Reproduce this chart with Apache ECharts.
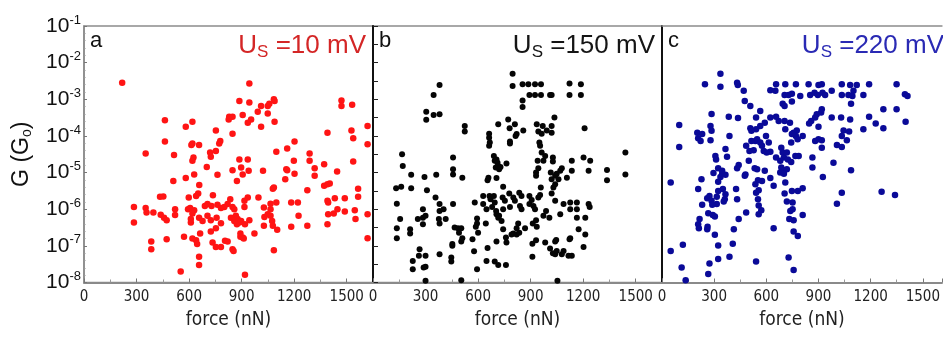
<!DOCTYPE html>
<html><head><meta charset="utf-8">
<script src="https://cdn.jsdelivr.net/npm/echarts@6/dist/echarts.min.js"></script>
<style>html,body{margin:0;padding:0;background:#fff}#c{width:943px;height:338px}</style>
</head><body><div id="c"></div>
<script>
// ---- data (force in nN, conductance given as log10(G/G0)) ----
const forceA = [218,944,887,944,1011,992,1049,1058,1084,1088,1049,906,954,935,829,848,826,1011,1088,1470,1470,1531,462,619,581,753,848,352,462,514,619,613,657,778,772,720,753,724,625,619,701,762,629,581,510,848,887,935,897,906,940,873,1022,1098,1160,1202,1198,1155,1160,1202,1149,1288,1288,1317,1317,1371,1390,1445,1527,1537,1537,1619,1619,1371,1403,1390,1275,1078,1084,1565,1565,1489,1432,1390,1394,1221,1183,1098,1065,996,935,916,835,736,652,658,640,598,434,453,285,285,352,357,396,438,457,472,520,520,472,384,384,571,594,606,629,610,619,657,677,690,705,724,728,762,753,782,724,619,640,646,663,657,657,552,734,753,782,805,820,820,848,858,867,877,887,873,848,854,893,893,906,912,919,944,897,916,973,919,1030,1027,1049,1065,1074,1078,1103,1084,1183,1225,1275,1390,1394,1426,1447,1489,1546,1550,1619,1619,610,705,801,782,757,839,858,1027,1065];
const logGA = [-2.55,-2.57,-3.05,-3.09,-3.18,-3.34,-3.18,-3.12,-3.00,-3.05,-3.39,-3.43,-3.55,-3.64,-3.48,-3.48,-3.55,-3.75,-3.61,-3.03,-3.18,-3.15,-3.57,-3.61,-3.75,-3.85,-3.94,-4.48,-4.15,-4.52,-4.21,-4.25,-4.25,-4.14,-4.21,-4.45,-4.41,-4.57,-4.59,-4.68,-4.85,-5.06,-5.05,-5.15,-5.23,-4.94,-4.64,-4.64,-4.86,-5.05,-4.95,-5.23,-4.95,-4.43,-4.34,-4.15,-4.68,-4.91,-4.94,-5.03,-5.18,-4.48,-4.68,-4.88,-5.09,-4.77,-3.91,-4.97,-3.85,-4.06,-4.70,-3.73,-4.23,-5.36,-5.30,-5.32,-5.48,-5.44,-5.41,-5.44,-5.66,-5.70,-5.70,-5.77,-5.82,-5.82,-5.82,-5.82,-5.85,-5.68,-5.68,-5.77,-5.73,-5.62,-5.57,-5.34,-5.64,-5.68,-5.66,-5.65,-5.94,-6.36,-5.97,-6.09,-6.09,-6.15,-6.23,-6.30,-6.00,-6.16,-6.82,-6.88,-7.09,-6.75,-6.00,-5.97,-6.03,-6.36,-6.12,-6.23,-6.32,-5.91,-5.86,-6.30,-5.91,-5.88,-6.52,-6.38,-6.61,-6.80,-6.85,-6.95,-6.66,-7.30,-7.52,-7.70,-6.91,-7.03,-7.03,-6.86,-6.88,-5.86,-5.94,-6.00,-6.18,-6.27,-6.36,-6.41,-7.09,-7.14,-6.66,-6.75,-6.77,-6.80,-6.41,-6.30,-6.32,-5.94,-6.66,-7.79,-6.21,-6.45,-6.14,-6.18,-6.32,-6.45,-6.56,-7.12,-6.48,-6.18,-6.45,-6.41,-6.14,-6.12,-6.00,-6.06,-6.03,-6.27,-6.14,-6.79,-6.27,-6.18,-5.94,-5.97,-6.23,-6.23,-6.32,-5.95,-6.00];

const forceB = [797,797,854,887,925,959,893,925,959,1011,1020,854,854,1122,1122,1187,1187,380,346,304,304,346,380,524,524,715,772,780,810,820,858,663,663,667,663,782,782,814,935,944,963,969,992,1020,1020,1036,1208,950,954,963,940,973,983,1027,1027,1078,1069,1049,1040,1059,1040,1020,1015,944,931,931,1135,1135,1107,1202,1240,1231,1336,1336,1441,1441,166,170,218,132,161,218,294,361,308,357,380,403,136,155,136,136,212,212,256,285,300,285,285,380,376,380,415,457,457,457,510,457,466,485,504,491,453,453,447,447,504,510,380,266,262,227,227,300,300,289,300,504,594,577,587,594,594,581,629,629,644,648,654,659,665,671,680,690,695,703,705,715,720,743,740,753,782,778,743,705,720,701,695,690,705,711,715,728,762,801,810,835,848,848,839,829,801,791,820,820,835,868,893,893,906,916,925,944,954,958,912,935,910,910,931,983,988,1007,1020,1030,1040,1040,1046,1011,1027,1040,1049,1078,1088,1069,1088,1126,1126,1164,1164,1164,1126,1122,1135,1116,1231,1237,1212,1174,1212,1202,1053,759,695,715,648,654,705,762,759,743,734,568,600,931,973];
const logGB = [-2.30,-2.64,-2.59,-2.59,-2.59,-2.59,-2.88,-2.88,-2.88,-2.88,-2.88,-3.03,-3.21,-2.57,-2.88,-2.59,-2.88,-2.61,-2.88,-3.34,-3.56,-3.43,-3.41,-3.73,-3.88,-3.68,-3.55,-3.79,-3.68,-3.95,-3.85,-3.94,-4.05,-4.18,-4.27,-4.15,-4.21,-4.00,-3.68,-3.88,-3.94,-3.73,-3.85,-3.73,-3.91,-3.50,-3.79,-4.18,-4.27,-4.45,-4.68,-4.68,-4.55,-4.59,-4.70,-4.88,-4.95,-5.03,-5.09,-5.18,-5.32,-5.18,-5.00,-4.88,-5.00,-5.09,-4.68,-4.95,-5.14,-4.59,-4.68,-4.95,-4.93,-5.21,-4.45,-5.05,-4.50,-4.82,-5.06,-5.43,-5.39,-5.43,-5.12,-5.06,-5.48,-5.68,-5.86,-6.00,-5.85,-6.27,-6.52,-6.79,-6.55,-6.66,-6.27,-6.23,-6.18,-6.41,-6.00,-6.05,-6.27,-6.39,-6.27,-4.59,-4.91,-5.05,-5.14,-5.86,-6.50,-6.52,-6.52,-6.64,-6.95,-7.00,-7.32,-7.43,-6.88,-6.79,-7.23,-7.09,-7.27,-7.41,-7.64,-7.27,-7.57,-7.59,-7.95,-7.94,-7.64,-7.15,-6.48,-6.25,-6.39,-5.82,-5.64,-5.86,-6.39,-6.00,-5.21,-5.14,-5.64,-5.73,-5.94,-5.64,-5.82,-6.05,-6.14,-6.23,-6.18,-6.00,-5.68,-5.77,-5.94,-5.57,-5.39,-5.15,-4.91,-4.86,-4.68,-4.55,-4.64,-4.73,-4.82,-4.85,-4.75,-5.68,-5.77,-5.55,-5.64,-6.00,-5.91,-6.39,-6.66,-6.69,-6.69,-6.52,-6.64,-6.52,-5.64,-5.86,-5.75,-5.91,-6.00,-5.68,-5.61,-5.41,-6.39,-6.48,-6.94,-7.30,-6.85,-6.91,-6.05,-6.23,-5.57,-5.41,-5.77,-6.88,-6.84,-7.07,-7.20,-7.23,-7.14,-7.23,-7.14,-6.14,-5.86,-5.82,-6.00,-5.82,-6.00,-6.23,-6.79,-6.82,-7.27,-7.27,-5.86,-5.94,-6.23,-6.55,-6.69,-7.03,-7.95,-7.52,-7.43,-7.52,-7.41,-7.06,-6.88,-6.91,-6.77,-6.55,-6.32,-6.82,-6.64,-6.30,-6.18];

const forceC = [336,336,247,432,436,470,476,508,623,652,656,709,705,728,747,694,705,747,770,795,843,852,877,896,900,919,923,938,976,1034,1034,1072,1082,1101,1120,1087,1095,1158,1191,1349,1397,1412,1349,1273,1401,1191,1229,1273,1158,1082,1030,976,915,919,890,881,858,846,900,1044,1034,1076,1063,1006,1034,986,1087,1034,1006,1263,1340,919,900,881,919,865,865,925,809,775,757,770,780,747,743,709,705,736,671,656,623,591,565,541,508,514,541,565,598,547,537,565,614,575,527,585,623,656,686,694,701,718,724,680,686,701,718,680,709,701,743,767,786,623,642,591,575,552,537,556,552,571,556,541,533,547,499,480,476,441,432,503,484,514,426,432,484,441,413,407,388,323,323,304,304,292,266,262,260,208,212,216,231,260,273,285,315,315,289,350,365,361,355,323,323,336,346,365,307,311,323,346,296,374,365,388,384,437,285,279,285,279,231,203,208,222,227,208,99,99,50,50,120,113,136,266,273,541,728,757,757,781,757,732,738,751,718,705,747,781,809,809,642,556,602,751];
const logGC = [-2.30,-2.66,-2.59,-2.55,-2.61,-2.77,-3.05,-3.18,-2.75,-2.77,-2.59,-2.59,-2.88,-2.88,-2.85,-3.12,-3.18,-3.06,-2.59,-2.91,-2.59,-2.88,-2.82,-2.88,-2.61,-2.59,-2.82,-2.88,-2.77,-2.59,-2.88,-2.88,-2.61,-2.77,-2.61,-3.12,-2.91,-2.88,-2.59,-2.59,-2.86,-2.91,-3.27,-3.27,-3.61,-3.48,-3.66,-3.79,-3.82,-3.55,-3.50,-3.50,-3.36,-3.27,-3.41,-3.50,-3.59,-3.66,-3.75,-3.85,-4.00,-3.88,-4.12,-4.25,-4.30,-4.73,-4.94,-5.55,-5.85,-5.52,-5.61,-4.12,-4.09,-4.14,-4.32,-4.59,-4.86,-5.12,-4.00,-3.85,-3.91,-4.00,-4.09,-3.95,-4.18,-3.82,-3.59,-3.64,-3.59,-3.48,-3.50,-3.64,-3.73,-3.82,-3.79,-3.86,-3.50,-3.32,-4.00,-4.09,-4.14,-4.18,-4.18,-4.27,-4.39,-4.41,-4.43,-4.59,-4.32,-4.45,-4.59,-4.45,-4.64,-4.68,-4.86,-4.95,-4.91,-5.00,-5.27,-5.03,-4.71,-4.55,-4.55,-5.15,-5.36,-4.95,-5.23,-5.21,-5.32,-5.48,-5.73,-6.03,-6.14,-5.55,-4.88,-4.91,-4.68,-5.05,-5.09,-4.79,-4.88,-4.41,-4.27,-4.14,-5.45,-5.73,-6.09,-6.27,-6.55,-6.94,-7.30,-7.36,-6.99,-6.70,-6.20,-6.16,-6.11,-6.48,-6.55,-6.41,-6.52,-6.27,-5.88,-5.70,-5.64,-5.77,-5.66,-5.86,-5.88,-5.45,-5.59,-5.73,-5.79,-5.50,-5.25,-5.12,-5.03,-5.06,-4.55,-4.64,-4.88,-4.95,-5.01,-4.57,-4.36,-4.00,-3.48,-3.51,-3.40,-3.73,-3.86,-4.12,-3.95,-3.91,-4.06,-4.14,-5.18,-5.45,-3.70,-4.30,-5.27,-7.14,-6.97,-7.59,-7.94,-7.77,-7.48,-7.43,-7.32,-7.66,-6.61,-6.73,-6.30,-6.27,-6.05,-6.00,-5.79,-5.57,-5.50,-5.50,-5.43,-6.16,-6.52,-5.90,-4.45,-5.82];

const xTickValues = [0, 300, 600, 900, 1200, 1500];
const yExponents = [-8, -7, -6, -5, -4, -3, -2, -1];
const panelLetters = ['a', 'b', 'c'];
const biasTexts = [' =10 mV', ' =150 mV', ' =220 mV'];
// visible force range per panel (panel c is cut by the right edge of the picture)
const forceMax = [1650, 1650, 1610];

// ---- styling ----
const pointColors = ['#ff1414', '#050505', '#0a0a98'];
const labelColors = ['#d42626', '#151515', '#2a2ab4'];
const gridLefts = [84, 373, 662];
const gridWidths = [289, 289, 282];
const GTOP = 26, GH = 256.5;
const narrow = "'Liberation Sans Narrow','DejaVu Sans Condensed','Arial Narrow',sans-serif";
const sans = "'Liberation Sans',Arial,sans-serif";

const toSeries = (f, lg) => f.map((x, i) => [x, Math.pow(10, lg[i])]);
const sets = [toSeries(forceA, logGA), toSeries(forceB, logGB), toSeries(forceC, logGC)];

const grids = [], xAxes = [], yAxes = [], series = [], graphics = [];
for (let i = 0; i < 3; i++) {
  // panel c runs off the right edge of the picture: no box, only a top line (added below)
  grids.push({left: gridLefts[i], top: GTOP, width: gridWidths[i], height: GH, show: i < 2,
    borderColor: '#8c8c8c', borderWidth: 1.5, backgroundColor: 'transparent', containLabel: false});
  xAxes.push({
    type: 'value', gridIndex: i, min: 0, max: forceMax[i], interval: 300, position: 'bottom',
    axisLine: {lineStyle: {color: '#8a8a8a', width: 2}},
    axisTick: {show: true, inside: true, length: 4, lineStyle: {color: '#777', width: 1}},
    minorTick: {show: true, splitNumber: 2, length: 3, lineStyle: {color: '#999'}},
    splitLine: {show: false},
    axisLabel: {
      showMaxLabel: false, margin: 7, color: '#222', fontFamily: narrow, fontSize: 15,
      formatter: v => xTickValues.indexOf(v) >= 0 ? String(v) : ''
    },
    name: 'force (nN)', nameLocation: 'middle', nameGap: 28,
    nameTextStyle: {fontFamily: narrow, fontSize: 19, color: '#222'}
  });
  yAxes.push({
    type: 'log', logBase: 10, gridIndex: i, min: 1e-8, max: 1e-1, interval: 1, position: 'left',
    axisLine: {show: true, lineStyle: {color: i === 0 ? '#8a8a8a' : '#111', width: i === 0 ? 1.5 : 2}},
    axisTick: {show: false},
    splitLine: {show: false},
    axisLabel: {
      show: i === 0, margin: 3,
      formatter: v => {
        const e = Math.round(Math.log10(v));
        return yExponents.indexOf(e) >= 0 ? '{a|10}{b|' + e + '}' : '';
      },
      rich: {
        a: {fontFamily: sans, fontSize: 21, color: '#111'},
        b: {fontFamily: sans, fontSize: 13, color: '#111', padding: [0, 0, 12, 0]}
      }
    },
    name: i === 0 ? '{g|G (G}{o|o}{g|)}' : '', nameLocation: 'middle', nameGap: 50,
    nameTextStyle: {
      rich: {
        g: {fontFamily: sans, fontSize: 23, color: '#111'},
        o: {fontFamily: sans, fontSize: 14, color: '#111', padding: [10, 0, 0, 0]}
      }
    }
  });
  series.push({
    type: 'scatter', xAxisIndex: i, yAxisIndex: i, data: sets[i],
    symbol: 'circle', symbolSize: i === 1 ? 6 : 6.5, itemStyle: {color: pointColors[i], opacity: 1},
    silent: true, animation: false
  });
  graphics.push({
    type: 'text', left: gridLefts[i] + 6, top: GTOP + 4,
    style: {text: panelLetters[i], fontFamily: sans, fontSize: 22, fill: '#111'}
  });
  graphics.push({
    type: 'text', right: 943 - (gridLefts[i] + 282), top: GTOP + 7,
    style: {
      text: '{u|U}{s|S}{u|' + biasTexts[i] + '}',
      rich: {
        u: {fontFamily: sans, fontSize: 26, fill: labelColors[i], color: labelColors[i]},
        s: {fontFamily: sans, fontSize: 17, fill: labelColors[i], color: labelColors[i], padding: [12, 0, 0, 0]}
      }
    }
  });
}
// top frame line of panel c
xAxes.push({
  type: 'value', gridIndex: 2, min: 0, max: forceMax[2], position: 'top',
  axisLine: {show: true, lineStyle: {color: '#8c8c8c', width: 1.5}},
  axisTick: {show: false}, axisLabel: {show: false}, splitLine: {show: false}
});
// tick-only helper axes (exponent space, same span as the log axes), moved onto each panel's left edge
for (let i = 0; i < 3; i++) {
  yAxes.push({
    type: 'value', gridIndex: i, min: -8, max: -1, interval: i === 0 ? 1 : 0.5,
    position: 'right', offset: -gridWidths[i],
    axisLine: {show: false}, axisLabel: {show: false}, splitLine: {show: false},
    axisTick: {show: true, inside: false, length: i === 0 ? 3 : 5,
      lineStyle: {color: i === 0 ? '#777' : '#222', width: 1}},
    minorTick: {show: i === 0, splitNumber: 5, length: 1.5, lineStyle: {color: '#999'}}
  });
}

const chart = echarts.init(document.getElementById('c'), null, {renderer: 'canvas'});
chart.setOption({
  animation: false, backgroundColor: '#fff',
  grid: grids, xAxis: xAxes, yAxis: yAxes, series: series, graphic: graphics
});
</script>
</body></html>
